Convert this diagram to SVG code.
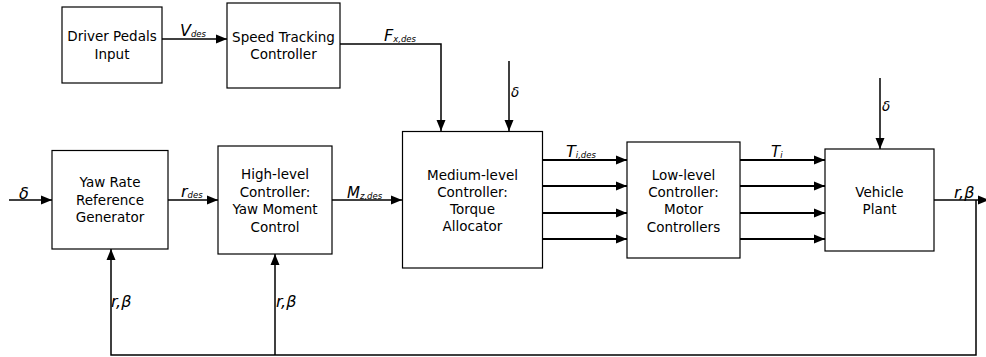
<svg xmlns="http://www.w3.org/2000/svg" width="986" height="357" viewBox="0 0 986 357">
<defs>
<style>
.box{fill:#fff;stroke:#000;stroke-width:1.2}
.t{font-family:"DejaVu Sans",sans-serif;font-size:13.5px;text-anchor:middle;fill:#000}
.l{font-family:"DejaVu Sans",sans-serif;font-size:16px;font-style:italic;fill:#000}
.s{font-size:8.5px}
.c{fill:none;stroke:#000;stroke-width:1.5}
.w{fill:none;stroke:#000;stroke-width:2}
</style>
<marker id="a" markerWidth="11" markerHeight="10" refX="11" refY="5" orient="auto" markerUnits="userSpaceOnUse">
<path d="M0,0.5 L11,5 L0,9.5 Z" fill="#000"/>
</marker>
</defs>
<rect width="986" height="357" fill="#fff"/>
<g id="connectors">
<line class="c" x1="162" y1="39" x2="227" y2="39" marker-end="url(#a)"/>
<polyline class="c" points="340,44 441,44 441,131" marker-end="url(#a)"/>
<line class="c" x1="509" y1="61" x2="509" y2="131" marker-end="url(#a)"/>
<line class="c" x1="9" y1="200" x2="52" y2="200" marker-end="url(#a)"/>
<line class="c" x1="168" y1="200" x2="218" y2="200" marker-end="url(#a)"/>
<line class="c" x1="332" y1="200" x2="402" y2="200" marker-end="url(#a)"/>
<line class="w" x1="543" y1="160" x2="627" y2="160" marker-end="url(#a)"/>
<line class="w" x1="543" y1="186" x2="627" y2="186" marker-end="url(#a)"/>
<line class="w" x1="543" y1="213" x2="627" y2="213" marker-end="url(#a)"/>
<line class="w" x1="543" y1="239" x2="627" y2="239" marker-end="url(#a)"/>
<line class="w" x1="740" y1="160" x2="825" y2="160" marker-end="url(#a)"/>
<line class="w" x1="740" y1="186" x2="825" y2="186" marker-end="url(#a)"/>
<line class="w" x1="740" y1="213" x2="825" y2="213" marker-end="url(#a)"/>
<line class="w" x1="740" y1="239" x2="825" y2="239" marker-end="url(#a)"/>
<line class="c" x1="880" y1="78" x2="880" y2="149" marker-end="url(#a)"/>
<line class="c" x1="934" y1="200" x2="989" y2="200" marker-end="url(#a)"/>
<polyline class="c" points="976,200 976,355 111,355 111,249" marker-end="url(#a)"/>
<line class="c" x1="275" y1="355" x2="275" y2="254" marker-end="url(#a)"/>
<text class="l" x="180" y="36">V<tspan class="s" dy="1">des</tspan></text>
<text class="l" x="384" y="41">F<tspan class="s" dy="1">x,des</tspan></text>
<text class="l" x="511" y="97" style="font-size:13.5px">δ</text>
<text class="l" x="19" y="199">δ</text>
<text class="l" x="181" y="197">r<tspan class="s" dy="1">des</tspan></text>
<text class="l" x="347" y="198" style="font-size:15px">M<tspan class="s" dy="1">z,des</tspan></text>
<text class="l" x="566" y="157">T<tspan class="s" dy="1">i,des</tspan></text>
<text class="l" x="771" y="157" style="font-size:15px">T<tspan class="s" dy="1">i</tspan></text>
<text class="l" x="882" y="111" style="font-size:13.5px">δ</text>
<text class="l" x="954" y="198">r,β</text>
<text class="l" x="111" y="307">r,β</text>
<text class="l" x="276" y="307">r,β</text>
</g>
<g id="driver">
<rect class="box" x="62" y="7" width="100" height="76"/>
<text class="t" x="112" y="41">Driver Pedals</text>
<text class="t" x="112" y="58.5">Input</text>
</g>
<g id="speed">
<rect class="box" x="227" y="3" width="113" height="85"/>
<text class="t" x="283.5" y="42">Speed Tracking</text>
<text class="t" x="283.5" y="59">Controller</text>
</g>
<g id="yawref">
<rect class="box" x="52" y="150.5" width="116" height="98.5"/>
<text class="t" x="110" y="187">Yaw Rate</text>
<text class="t" x="110" y="204.5">Reference</text>
<text class="t" x="110" y="222">Generator</text>
</g>
<g id="high">
<rect class="box" x="218" y="146" width="114" height="108"/>
<text class="t" x="275" y="179">High-level</text>
<text class="t" x="275" y="196.5">Controller:</text>
<text class="t" x="275" y="214">Yaw Moment</text>
<text class="t" x="275" y="231.5">Control</text>
</g>
<g id="medium">
<rect class="box" x="402.5" y="131.5" width="140" height="136.5"/>
<text class="t" x="472.5" y="179.5">Medium-level</text>
<text class="t" x="472.5" y="196.5">Controller:</text>
<text class="t" x="472.5" y="214">Torque</text>
<text class="t" x="472.5" y="231">Allocator</text>
</g>
<g id="low">
<rect class="box" x="627" y="142" width="113" height="116"/>
<text class="t" x="683.5" y="179.5">Low-level</text>
<text class="t" x="683.5" y="196.5">Controller:</text>
<text class="t" x="683.5" y="214">Motor</text>
<text class="t" x="683.5" y="231.5">Controllers</text>
</g>
<g id="plant">
<rect class="box" x="825" y="149" width="109" height="102"/>
<text class="t" x="879.5" y="197">Vehicle</text>
<text class="t" x="879.5" y="214">Plant</text>
</g>
</svg>
